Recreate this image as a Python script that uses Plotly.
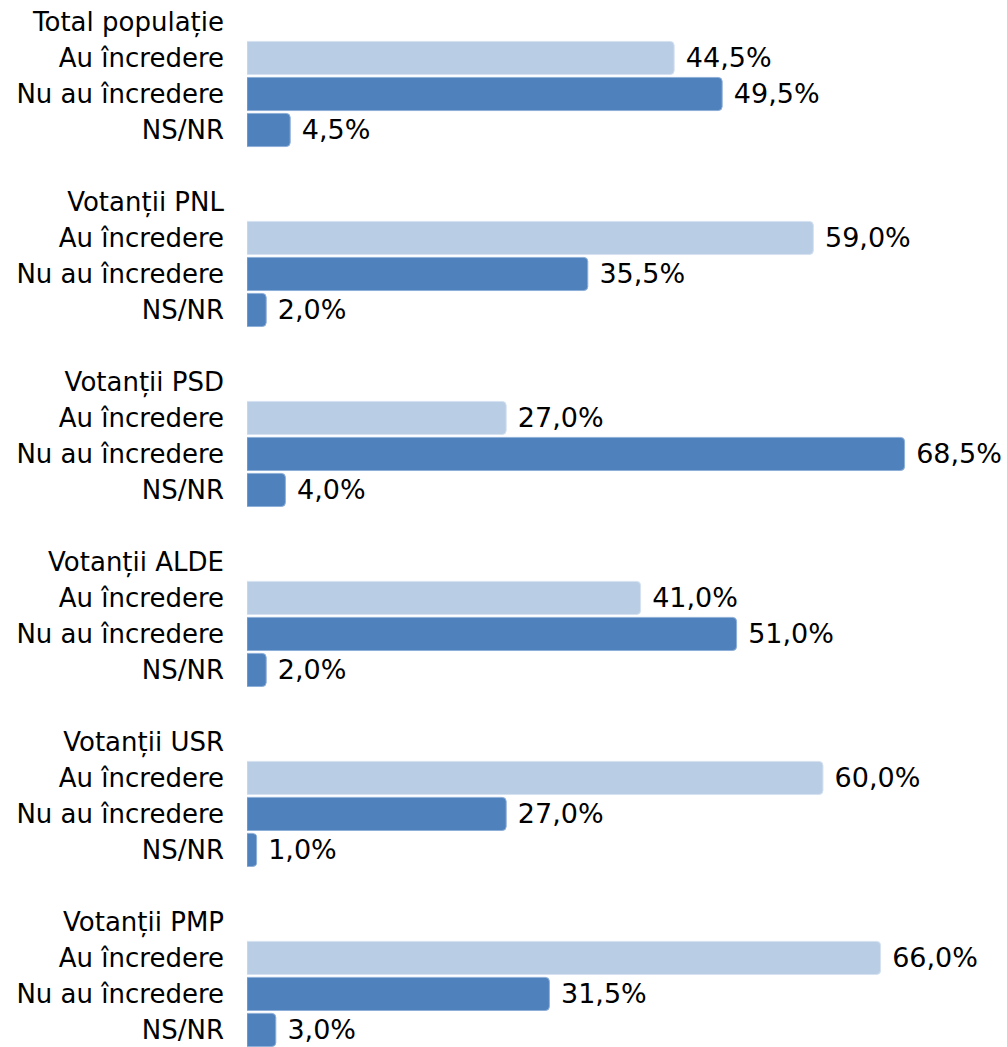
import plotly.graph_objects as go

groups = ["Total populație", "Votanții PNL", "Votanții PSD", "Votanții ALDE", "Votanții USR", "Votanții PMP"]
categories = ["Au încredere", "Nu au încredere", "NS/NR"]
au_incredere = [44.5, 59.0, 27.0, 41.0, 60.0, 66.0]
nu_au_incredere = [49.5, 35.5, 68.5, 51.0, 27.0, 31.5]
ns_nr = [4.5, 2.0, 4.0, 2.0, 1.0, 3.0]

series = [au_incredere, nu_au_incredere, ns_nr]
colors = ["#B9CDE5", "#4F81BD", "#4F81BD"]
line_colors = ["#D6E2F1", "#8EAFD8", "#8EAFD8"]

FONT = "DejaVu Sans"

def fmt(v):
    return " " + f"{v:.1f}".replace(".", ",") + "%"

fig = go.Figure()
for ci, (cat, vals) in enumerate(zip(categories, series)):
    ys = [gi * 5 + ci + 1 for gi in range(len(groups))]
    fig.add_trace(go.Bar(
        x=vals, y=ys, orientation="h", name=cat,
        marker=dict(color=colors[ci], line=dict(color=line_colors[ci], width=1)),
        width=0.92,
        text=[fmt(v) for v in vals], textposition="outside",
        textfont=dict(family=FONT, size=27, color="#000000"),
        cliponaxis=False, showlegend=False, hoverinfo="skip",
    ))

tickvals, ticktext = [], []
for gi, g in enumerate(groups):
    tickvals.append(gi * 5)
    ticktext.append(g)
    for ci, cat in enumerate(categories):
        tickvals.append(gi * 5 + ci + 1)
        ticktext.append(cat)

fig.update_layout(
    width=1007, height=1047,
    margin=dict(l=247, r=0, t=0, b=0, autoexpand=False),
    paper_bgcolor="white", plot_bgcolor="white",
    barmode="overlay", barcornerradius=4,
    font=dict(family=FONT, size=26, color="#000000"),
    xaxis=dict(range=[0, 79.17], visible=False, fixedrange=True, automargin=False),
    yaxis=dict(range=[28.474, -0.611], tickvals=tickvals, ticktext=ticktext, automargin=False,
               showgrid=False, zeroline=False, showline=False, ticks="", fixedrange=True,
               ticklabelstandoff=22, tickfont=dict(family=FONT, size=26, color="#000000")),
)

fig.write_html("out.html", config={"displayModeBar": False},
               post_script="document.body.style.margin='0';document.body.style.overflow='hidden';")
